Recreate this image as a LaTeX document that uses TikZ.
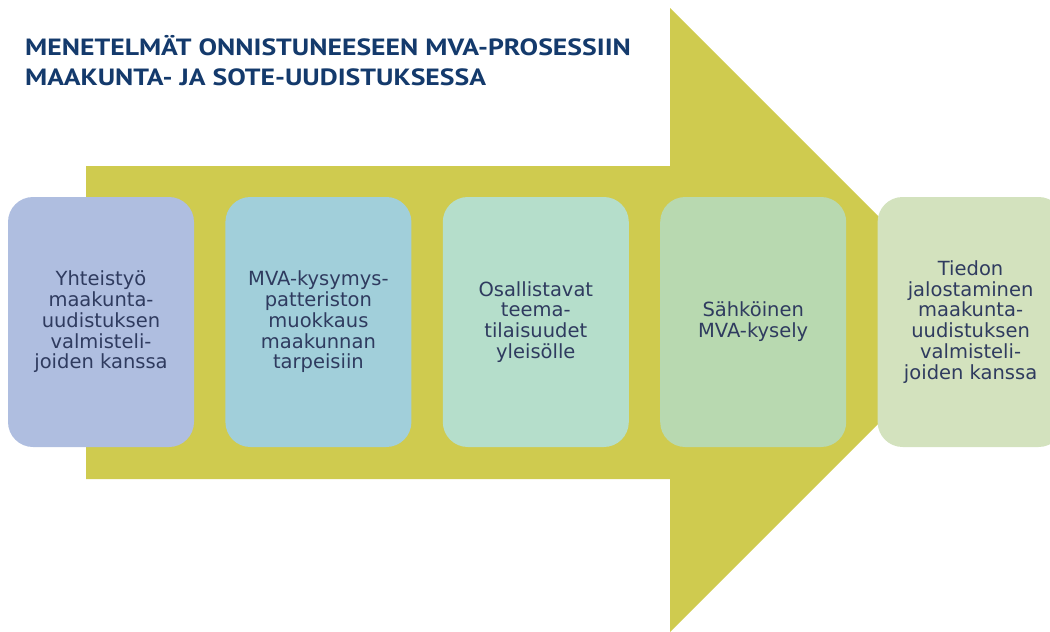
\documentclass[tikz,border=0pt]{standalone}
\usepackage{fontspec}
\setmainfont{DejaVu Sans}
\newfontfamily\titlefont[FakeStretch=1.18]{PT Sans}
\usetikzlibrary{positioning}

\definecolor{arrowcol}{HTML}{CFCB4F}
\definecolor{titlecol}{HTML}{143A6C}
\definecolor{textcol}{HTML}{2F3B5F}
\definecolor{boxa}{HTML}{AFBEE0}
\definecolor{boxb}{HTML}{A1CFDA}
\definecolor{boxc}{HTML}{B5DECB}
\definecolor{boxd}{HTML}{B8D9B0}
\definecolor{boxe}{HTML}{D3E2BE}

\tikzset{
  stage/.style={rectangle, rounded corners=25pt, minimum width=186pt,
    minimum height=250pt, inner sep=0pt, align=center, text=textcol,
    font=\fontsize{19.5}{20.8}\selectfont},
  heading/.style={inner sep=0pt, align=left, text=titlecol,
    font=\titlefont\bfseries\fontsize{23.5}{30}\selectfont},
}

\begin{document}
\begin{tikzpicture}[x=1pt,y=-1pt, node distance=31pt]
  % Frame
  \useasboundingbox (0,0) rectangle (1050,632);
  \clip (0,0) rectangle (1050,632);

  % Big arrow
  \fill[arrowcol] (86,166) -- (670,166) -- (670,8) -- (982,320)
    -- (670,632) -- (670,479) -- (86,479) -- cycle;

  % Title
  \node[heading, anchor=north west] (T) at (25,35)
    {MENETELMÄT ONNISTUNEESEEN MVA-PROSESSIIN\\MAAKUNTA- JA SOTE-UUDISTUKSESSA};

  % Define nodes
  \node[stage, fill=boxa]            (A) at (101,322)
    {Yhteistyö\\maakunta-\\uudistuksen\\valmisteli-\\joiden kanssa};
  \node[stage, fill=boxb, right=of A] (B)
    {MVA-kysymys-\\patteriston\\muokkaus\\maakunnan\\tarpeisiin};
  \node[stage, fill=boxc, right=of B] (C)
    {Osallistavat\\teema-\\tilaisuudet\\yleisölle};
  \node[stage, fill=boxd, right=of C] (D)
    {Sähköinen\\MVA-kysely};
  \node[stage, fill=boxe, right=of D] (E)
    {Tiedon\\jalostaminen\\maakunta-\\uudistuksen\\valmisteli-\\joiden kanssa};
\end{tikzpicture}
\end{document}
